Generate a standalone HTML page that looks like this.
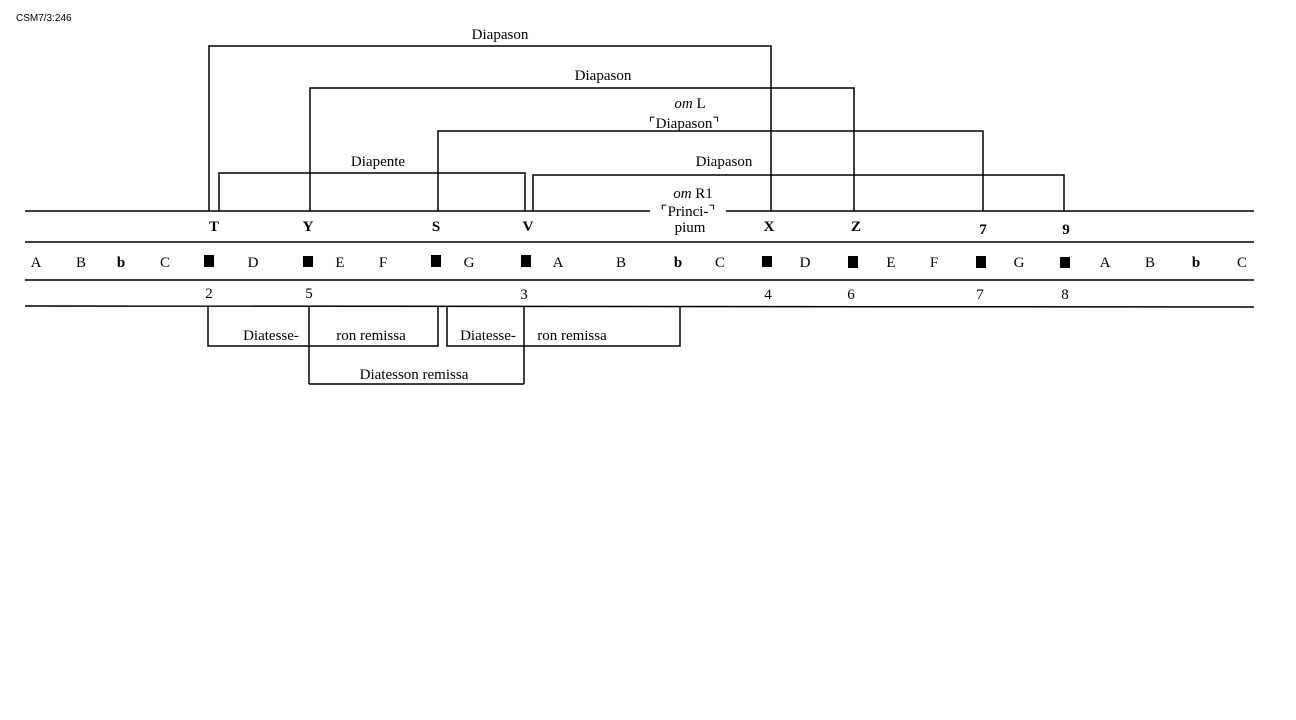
<!DOCTYPE html>
<html><head><meta charset="utf-8"><style>
body{margin:0;background:#fff;width:1296px;height:720px;overflow:hidden}
svg{display:block}
text{font-family:"Liberation Serif",serif;font-size:15px;fill:#000;text-anchor:middle}
.s{font-family:"Liberation Sans",sans-serif;font-size:10px;text-anchor:start}
</style></head><body>
<svg width="1296" height="720" viewBox="0 0 1296 720">
<text class="s" x="16" y="21">CSM7/3:246</text>
<g stroke="#000" stroke-width="1.5" fill="none">
<line x1="25" y1="211" x2="1254" y2="211"/>
<line x1="25" y1="242" x2="1254" y2="242"/>
<line x1="25" y1="280" x2="1254" y2="280"/>
<line x1="25" y1="306" x2="1254" y2="307"/>
<polyline points="209,211 209,46 771,46 771,211"/>
<polyline points="310,211 310,88 854,88 854,211"/>
<polyline points="438,211 438,131 983,131 983,211"/>
<polyline points="219,211 219,173 525,173 525,211"/>
<polyline points="533,211 533,175 1064,175 1064,211"/>
<polyline points="208,306 208,346 438,346 438,306"/>
<line x1="309" y1="306" x2="309" y2="384"/>
<polyline points="447,306 447,346 680,346 680,306"/>
<line x1="524" y1="306" x2="524" y2="384"/>
<line x1="309" y1="384" x2="524" y2="384"/>
</g>
<rect x="650" y="204" width="76" height="14" fill="#fff"/>
<text x="500" y="39">Diapason</text>
<text x="603" y="80">Diapason</text>
<text x="690" y="108"><tspan font-style="italic">om</tspan> L</text>
<text x="684" y="128">⌜Diapason⌝</text>
<text x="378" y="166">Diapente</text>
<text x="724" y="166">Diapason</text>
<text x="693" y="198"><tspan font-style="italic">om</tspan> R1</text>
<text x="688" y="216" font-size="14">⌜Princi-⌝</text>
<text x="690" y="232" font-size="14">pium</text>
<g font-weight="bold">
<text x="214" y="231">T</text><text x="308" y="231">Y</text><text x="436" y="231">S</text><text x="528" y="231">V</text>
<text x="769" y="231">X</text><text x="856" y="231">Z</text><text x="983" y="234">7</text><text x="1066" y="234">9</text>
</g>
<g>
<text x="36" y="267">A</text><text x="81" y="267">B</text><text x="121" y="267" font-weight="bold" font-size="13">b</text><text x="165" y="267">C</text>
<text x="253" y="267">D</text><text x="340" y="267">E</text><text x="383" y="267">F</text><text x="469" y="267">G</text>
<text x="558" y="267">A</text><text x="621" y="267">B</text><text x="678" y="267" font-weight="bold" font-size="13">b</text><text x="720" y="267">C</text>
<text x="805" y="267">D</text><text x="891" y="267">E</text><text x="934" y="267">F</text><text x="1019" y="267">G</text>
<text x="1105" y="267">A</text><text x="1150" y="267">B</text><text x="1196" y="267" font-weight="bold" font-size="13">b</text><text x="1242" y="267">C</text>
</g>
<g fill="#000">
<rect x="204" y="255" width="10" height="12"/><rect x="303" y="256" width="10" height="11"/>
<rect x="431" y="255" width="10" height="12"/><rect x="521" y="255" width="10" height="12"/>
<rect x="762" y="256" width="10" height="11"/><rect x="848" y="256" width="10" height="12"/>
<rect x="976" y="256" width="10" height="12"/><rect x="1060" y="257" width="10" height="11"/>
</g>
<text x="209" y="298">2</text><text x="309" y="298">5</text><text x="524" y="299">3</text>
<text x="768" y="299">4</text><text x="851" y="299">6</text><text x="980" y="299">7</text><text x="1065" y="299">8</text>
<text x="271" y="340">Diatesse-</text><text x="371" y="340">ron remissa</text>
<text x="488" y="340">Diatesse-</text><text x="572" y="340">ron remissa</text>
<text x="414" y="379">Diatesson remissa</text>
</svg>
</body></html>
